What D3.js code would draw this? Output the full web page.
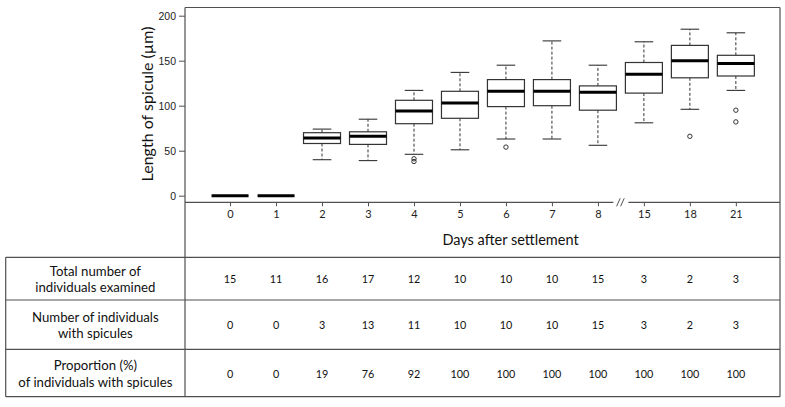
<!DOCTYPE html>
<html>
<head>
<meta charset="utf-8">
<script src="https://cdn.jsdelivr.net/npm/d3@7"></script>
<style>
  html, body { margin: 0; padding: 0; background: #fff; }
  svg { display: block; }
</style>
</head>
<body>
<svg id="chart" width="785" height="407"></svg>
<script>
// ---------- data ----------
const days = ["0", "1", "2", "3", "4", "5", "6", "7", "8", "15", "18", "21"];
const whiskerLow  = [0, 0, 40, 39, 46, 51, 63, 63, 56, 81, 96, 117];
const q1          = [0, 0, 58, 57, 80, 86, 99, 100, 95, 114, 131, 133];
const median      = [0, 0, 64, 66, 94, 103, 116, 116, 115, 135, 150, 147];
const q3          = [0, 0, 70, 71, 106, 116, 129, 129, 122, 148, 167, 156];
const whiskerHigh = [0, 0, 74, 85, 117, 137, 145, 172, 145, 171, 185, 181];
const outliers    = [[], [], [], [], [41, 38], [], [54], [], [], [], [66], [95, 82]];
const yTicks = [0, 50, 100, 150, 200];

const totalExamined = [15, 11, 16, 17, 12, 10, 10, 10, 15, 3, 2, 3];
const withSpicules  = [0, 0, 3, 13, 11, 10, 10, 10, 15, 3, 2, 3];
const proportion    = [0, 0, 19, 76, 92, 100, 100, 100, 100, 100, 100, 100];
const rowLabels = [
  ["Total number of", "individuals examined"],
  ["Number of individuals", "with spicules"],
  ["Proportion (%)", "of individuals with spicules"]
];
const tableRows = [totalExamined, withSpicules, proportion];

// ---------- layout ----------
const svg = d3.select("#chart");
const frame = { left: 185, right: 780, top: 7.5, bottom: 202.3 };
const tableLeft = 5.7;
const rowLines = [257.3, 300, 349.3, 396.7];
const lineColor = "#505050";
const calibri = "Lato, 'Open Sans', sans-serif";
const arial = "'Liberation Sans', Arial, sans-serif";

const x = d3.scaleLinear().domain([-0.98, 11.96]).range([frame.left, frame.right]);
const y = d3.scaleLinear().domain([0, 200]).range([195.7, 15.7]);
const boxHalf = 18.5;
const capHalf = 9.3;

const data = days.map((d, i) => ({
  day: d, i,
  lo: whiskerLow[i], q1: q1[i], med: median[i], q3: q3[i], hi: whiskerHigh[i],
  out: outliers[i]
}));

// ---------- boxplots ----------
const g = svg.append("g");
const boxes = g.selectAll("g.box").data(data).join("g").attr("class", "box");

boxes.filter(d => d.hi > d.lo).each(function (d) {
  const s = d3.select(this);
  const cx = x(d.i);
  s.append("line").attr("x1", cx).attr("x2", cx).attr("y1", y(d.q3)).attr("y2", y(d.hi))
    .attr("stroke", "#333").attr("stroke-width", 1).attr("stroke-dasharray", "3,2");
  s.append("line").attr("x1", cx).attr("x2", cx).attr("y1", y(d.q1)).attr("y2", y(d.lo))
    .attr("stroke", "#333").attr("stroke-width", 1).attr("stroke-dasharray", "3,2");
  [d.hi, d.lo].forEach(v => {
    s.append("line").attr("x1", cx - capHalf).attr("x2", cx + capHalf)
      .attr("y1", y(v)).attr("y2", y(v)).attr("stroke", "#333").attr("stroke-width", 1.1);
  });
  s.append("rect").attr("x", cx - boxHalf).attr("width", boxHalf * 2)
    .attr("y", y(d.q3)).attr("height", y(d.q1) - y(d.q3))
    .attr("fill", "#fff").attr("stroke", "#333").attr("stroke-width", 1.2);
});

boxes.append("line")
  .attr("x1", d => x(d.i) - boxHalf).attr("x2", d => x(d.i) + boxHalf)
  .attr("y1", d => y(d.med)).attr("y2", d => y(d.med))
  .attr("stroke", "#000").attr("stroke-width", 3);

boxes.selectAll("circle").data(d => d.out.map(v => ({ v, i: d.i }))).join("circle")
  .attr("cx", d => x(d.i)).attr("cy", d => y(d.v)).attr("r", 2.2)
  .attr("fill", "none").attr("stroke", "#333").attr("stroke-width", 1);

// ---------- frame ----------
const breakX = (x(8) + x(9)) / 2;
const gap = 7.5;
const fr = svg.append("g").attr("stroke", lineColor).attr("stroke-width", 1.2).attr("fill", "none");
fr.append("line").attr("x1", frame.left).attr("x2", frame.right).attr("y1", frame.top).attr("y2", frame.top);
fr.append("line").attr("x1", frame.left).attr("x2", frame.left).attr("y1", frame.top).attr("y2", rowLines[3]);
fr.append("line").attr("x1", frame.right).attr("x2", frame.right).attr("y1", frame.top).attr("y2", rowLines[3]);
fr.append("line").attr("x1", frame.left).attr("x2", breakX - gap).attr("y1", frame.bottom).attr("y2", frame.bottom);
fr.append("line").attr("x1", breakX + gap).attr("x2", frame.right).attr("y1", frame.bottom).attr("y2", frame.bottom);
[-2.5, 1.5].forEach(off => {
  fr.append("line").attr("x1", breakX + off - 1.8).attr("x2", breakX + off + 1.8)
    .attr("y1", frame.bottom + 4).attr("y2", frame.bottom - 4).attr("stroke-width", 1);
});

// ---------- axes ----------
const yAxis = svg.append("g").attr("transform", `translate(${frame.left},0)`)
  .call(d3.axisLeft(y).tickValues(yTicks).tickSize(6).tickPadding(3).tickSizeOuter(0));
yAxis.select(".domain").remove();
yAxis.selectAll(".tick line").attr("stroke", lineColor);
yAxis.selectAll(".tick text").attr("font-family", arial).attr("font-size", 10.5).attr("fill", "#222");

const xAxis = svg.append("g").attr("transform", `translate(0,${frame.bottom})`)
  .call(d3.axisBottom(x).tickValues(d3.range(days.length)).tickFormat(i => days[i])
    .tickSize(4).tickPadding(4).tickSizeOuter(0));
xAxis.select(".domain").remove();
xAxis.selectAll(".tick line").attr("stroke", lineColor);
xAxis.selectAll(".tick text").attr("font-family", calibri).attr("font-size", 11).attr("fill", "#222");

svg.append("text")
  .attr("transform", `translate(146,104) rotate(-90)`)
  .attr("text-anchor", "middle").attr("dominant-baseline", "central")
  .attr("font-family", calibri).attr("font-size", 16).attr("fill", "#111")
  .text("Length of spicule (µm)");

svg.append("text")
  .attr("x", 510.5).attr("y", 239.5)
  .attr("text-anchor", "middle").attr("dominant-baseline", "central")
  .attr("font-family", calibri).attr("font-size", 14.5).attr("fill", "#111")
  .text("Days after settlement");

// ---------- table ----------
const tb = svg.append("g").attr("stroke", lineColor).attr("stroke-width", 1.2);
rowLines.forEach(yy => {
  tb.append("line").attr("x1", tableLeft).attr("x2", frame.right).attr("y1", yy).attr("y2", yy);
});
tb.append("line").attr("x1", tableLeft).attr("x2", tableLeft).attr("y1", rowLines[0]).attr("y2", rowLines[3]);

const labelCx = (tableLeft + frame.left) / 2;
rowLabels.forEach((lines, r) => {
  const mid = (rowLines[r] + rowLines[r + 1]) / 2;
  const lh = 16.2;
  lines.forEach((t, k) => {
    svg.append("text")
      .attr("x", labelCx).attr("y", mid + 0.5 + (k - (lines.length - 1) / 2) * lh)
      .attr("text-anchor", "middle").attr("dominant-baseline", "central")
      .attr("font-family", calibri).attr("font-size", 13.2).attr("fill", "#111")
      .text(t);
  });
});

tableRows.forEach((vals, r) => {
  const mid = (rowLines[r] + rowLines[r + 1]) / 2;
  svg.append("g").selectAll("text").data(vals).join("text")
    .attr("x", (d, i) => x(i)).attr("y", mid)
    .attr("text-anchor", "middle").attr("dominant-baseline", "central")
    .attr("font-family", calibri).attr("font-size", 10.8).attr("fill", "#111")
    .text(d => d);
});
</script>
</body>
</html>
